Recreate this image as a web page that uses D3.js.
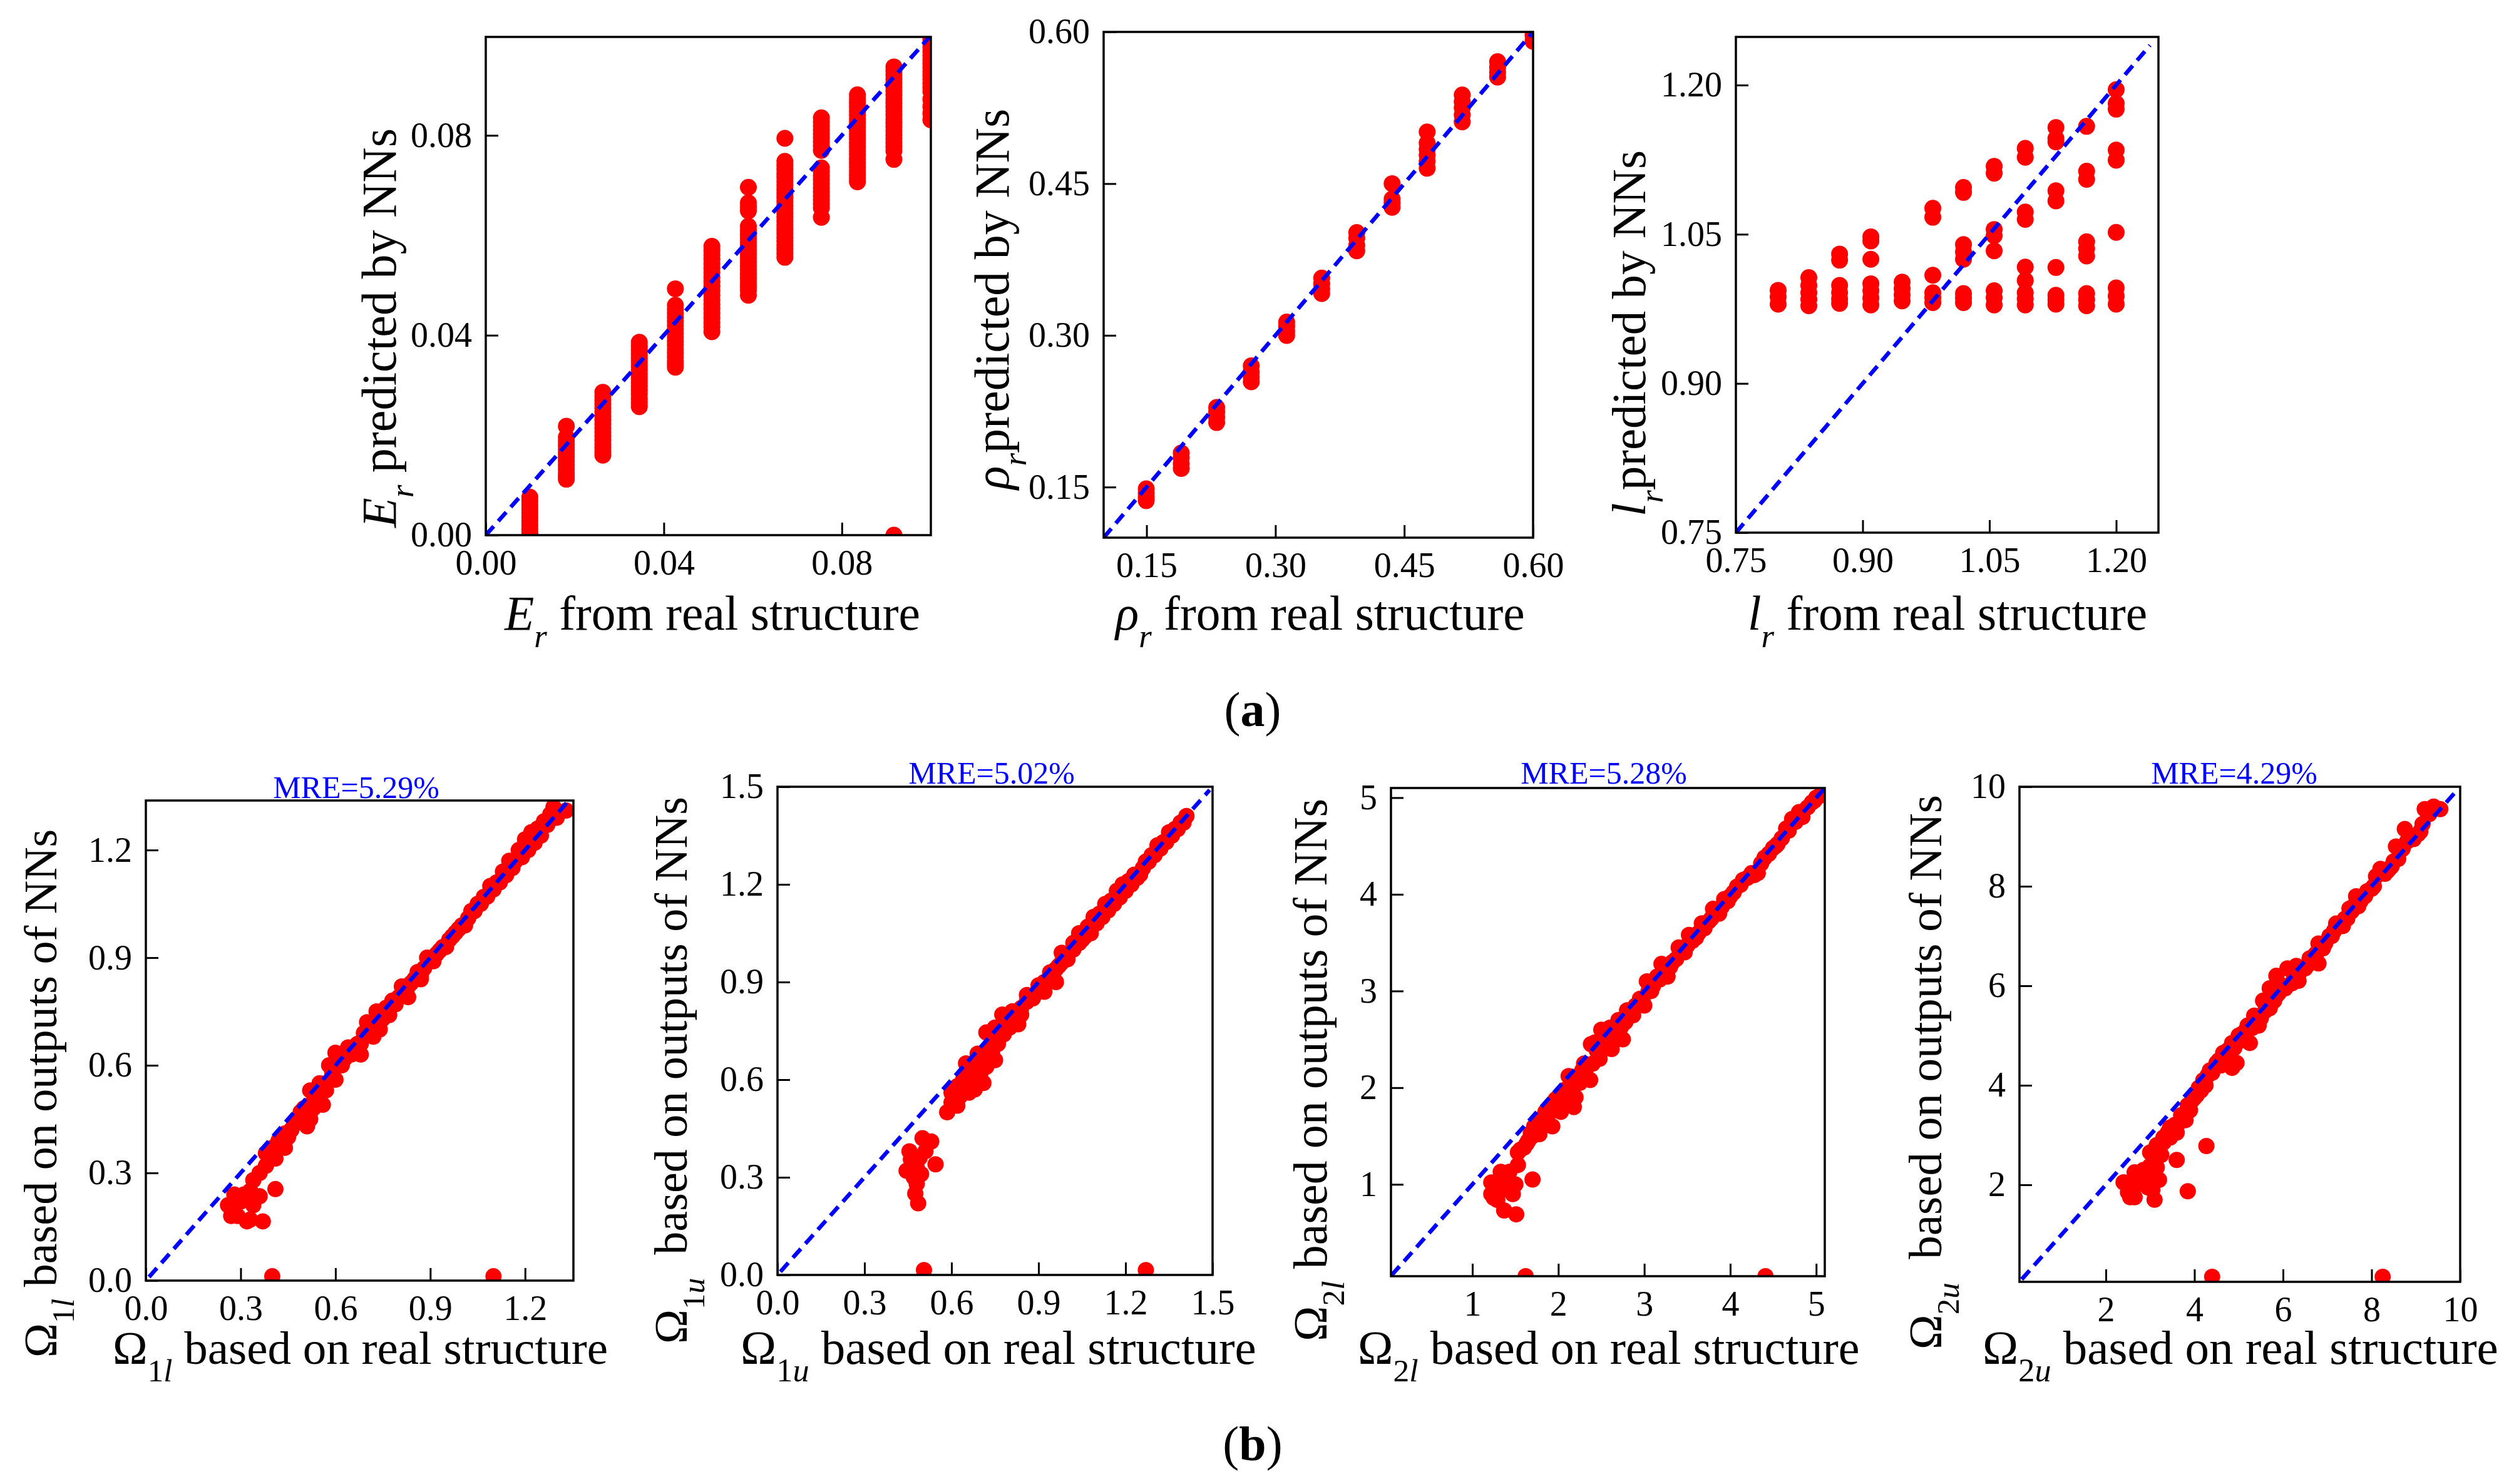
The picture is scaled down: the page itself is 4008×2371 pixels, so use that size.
<!DOCTYPE html>
<html>
<head>
<meta charset="utf-8">
<script src="https://cdn.jsdelivr.net/npm/d3@7"></script>
<style>
  html, body { margin: 0; padding: 0; background: #fff; }
  text { font-family: "Liberation Serif", serif; fill: #000; }
</style>
</head>
<body>
<svg id="chart" width="4008" height="2371"></svg>
<script>
// (a) columns: one x value, list of predicted values
const erX = [0.0099, 0.0181, 0.0263, 0.0345, 0.0426, 0.0508, 0.059, 0.0672, 0.0754, 0.0835, 0.0917, 0.1];
const erY = [
  [0.0076, 0.0068, 0.006, 0.0052, 0.0044, 0.0036, 0.0028, 0.002, 0.0012, 0.0004, 0],
  [0.0218, 0.0196, 0.0188, 0.018, 0.0172, 0.0164, 0.0156, 0.0148, 0.014, 0.0132, 0.0124, 0.0118, 0.0112],
  [0.0286, 0.0278, 0.027, 0.0262, 0.0254, 0.0246, 0.0238, 0.023, 0.0222, 0.0214, 0.0206, 0.0198, 0.019, 0.0182, 0.0175, 0.0167, 0.016],
  [0.0386, 0.0378, 0.037, 0.0362, 0.0354, 0.0346, 0.0338, 0.033, 0.0322, 0.0314, 0.0306, 0.0298, 0.029, 0.0282, 0.0273, 0.0265, 0.0257],
  [0.0493, 0.046, 0.0452, 0.0444, 0.0436, 0.0428, 0.042, 0.0412, 0.0404, 0.0396, 0.0388, 0.038, 0.0372, 0.0364, 0.0356, 0.0348, 0.0342, 0.0336],
  [0.0578, 0.057, 0.0561, 0.0552, 0.0543, 0.0534, 0.0525, 0.0516, 0.0507, 0.0498, 0.0489, 0.048, 0.0471, 0.0462, 0.0453, 0.0444, 0.0435, 0.0426, 0.0417, 0.0407],
  [0.0696, 0.0665, 0.0657, 0.0649, 0.0618, 0.061, 0.0602, 0.0594, 0.0586, 0.0578, 0.057, 0.0562, 0.0554, 0.0546, 0.0538, 0.053, 0.0522, 0.0514, 0.0506, 0.0498, 0.049, 0.048],
  [0.0794, 0.0748, 0.074, 0.0732, 0.0724, 0.0716, 0.0708, 0.07, 0.0692, 0.0684, 0.0676, 0.0668, 0.066, 0.0652, 0.0644, 0.0636, 0.0628, 0.062, 0.0612, 0.0604, 0.0596, 0.0588, 0.058, 0.0572, 0.0564, 0.0556],
  [0.0835, 0.0827, 0.0819, 0.0811, 0.0803, 0.0795, 0.0787, 0.0779, 0.077, 0.0735, 0.0727, 0.0719, 0.0711, 0.0703, 0.0695, 0.0687, 0.0679, 0.0671, 0.0663, 0.0655, 0.0636],
  [0.0881, 0.0873, 0.0865, 0.0857, 0.0849, 0.0841, 0.0833, 0.0825, 0.0817, 0.0809, 0.0801, 0.0793, 0.0785, 0.0777, 0.0769, 0.0761, 0.0753, 0.0745, 0.0737, 0.0729, 0.0721, 0.0714, 0.0707],
  [0.0937, 0.0929, 0.0921, 0.0913, 0.0905, 0.0897, 0.0889, 0.0881, 0.0873, 0.0865, 0.0857, 0.0849, 0.0841, 0.0833, 0.0825, 0.0817, 0.0809, 0.0801, 0.0793, 0.0785, 0.0777, 0.0769, 0.0752, 0],
  [0.1, 0.0992, 0.0984, 0.0976, 0.0968, 0.096, 0.0952, 0.0944, 0.0936, 0.0928, 0.092, 0.0912, 0.0904, 0.0896, 0.0888, 0.0872, 0.0858, 0.0844, 0.0831]
];

const rhoX = [0.1496, 0.1904, 0.2316, 0.2719, 0.3131, 0.3539, 0.3947, 0.4359, 0.4767, 0.5175, 0.5587, 0.6];
const rhoY = [
  [0.1483, 0.144, 0.14, 0.1366],
  [0.1837, 0.179, 0.173, 0.1684],
  [0.2287, 0.224, 0.219, 0.2138],
  [0.2698, 0.264, 0.259, 0.2541],
  [0.3132, 0.309, 0.304, 0.2999],
  [0.3566, 0.351, 0.346, 0.3414],
  [0.4017, 0.396, 0.389, 0.3836],
  [0.45, 0.4347, 0.431, 0.4266],
  [0.5011, 0.4902, 0.484, 0.478, 0.472, 0.4652],
  [0.5377, 0.531, 0.525, 0.518, 0.5111],
  [0.5706, 0.565, 0.56, 0.5553],
  [0.5968, 0.5907]
];

const lenX = [0.8, 0.8363, 0.8727, 0.9097, 0.9467, 0.983, 1.0193, 1.0556, 1.0924, 1.1287, 1.165, 1.2];
const lenY = [
  [0.9936, 0.9871, 0.9797],
  [1.0064, 0.9986, 0.9912, 0.9846, 0.9781],
  [1.0301, 1.024, 0.9986, 0.9912, 0.985, 0.9805],
  [1.0474, 1.0433, 1.0248, 1.0002, 0.9932, 0.9858, 0.9789],
  [1.0018, 0.9953, 0.9891, 0.983],
  [1.0761, 1.0671, 1.0088, 0.9912, 0.9863, 0.9813],
  [1.097, 1.0921, 1.0396, 1.0322, 1.0248, 0.9904, 0.9858, 0.9813],
  [1.1183, 1.1114, 1.0548, 1.0486, 1.0334, 0.9932, 0.9863, 0.9789],
  [1.1364, 1.1274, 1.0724, 1.065, 1.017, 1.0035, 0.9912, 0.985, 0.9789],
  [1.1573, 1.1462, 1.1429, 1.0937, 1.0835, 1.0166, 0.9887, 0.9842, 0.9797],
  [1.1585, 1.1134, 1.1052, 1.0425, 1.0355, 1.0281, 0.9904, 0.9842, 0.9781],
  [1.1954, 1.1815, 1.1758, 1.1347, 1.1245, 1.0519, 0.9961, 0.9879, 0.9797]
];

// (b) real / predicted pairs
const o1lReal = [0.26, 0.27, 0.29, 0.28, 0.30, 0.31, 0.33, 0.32, 0.34, 0.37, 0.36, 0.41, 0.33, 0.40, 1.10, 0.34, 0.36, 0.38, 0.39, 0.40, 0.41, 0.42, 0.44, 0.45, 0.46, 0.48, 0.49, 0.51, 0.52, 0.53, 0.52, 0.54, 0.56, 0.55, 0.57, 0.58, 0.60, 0.59, 0.60, 0.62, 0.64, 0.63, 0.66, 0.68, 0.67, 0.69, 0.70, 0.72, 0.73, 0.74, 0.75, 0.77, 0.79, 0.81, 0.83, 0.84, 0.86, 0.87, 0.89, 0.91, 0.93, 0.95, 0.97, 0.99, 1.01, 1.03, 1.05, 1.07, 1.09, 1.11, 1.13, 1.15, 1.17, 1.18, 1.20, 1.22, 1.24, 1.26, 1.28, 1.29, 1.30, 1.33,
  0.38, 0.40, 0.42, 0.44, 0.46, 0.47, 0.49, 0.50, 0.52, 0.54, 0.55, 0.57, 0.59, 0.61, 0.63, 0.65, 0.66, 0.68, 0.70, 0.71, 0.73, 0.75, 0.76, 0.78, 0.80, 0.82, 0.83, 0.85, 0.87, 0.88, 0.90, 0.92, 0.94, 0.96, 0.98, 1.0, 1.02, 1.04, 1.06, 1.08, 1.10, 1.12, 1.14, 1.16, 1.19, 1.21, 1.23, 1.25, 1.27];
const o1lPred = [0.21, 0.18, 0.18, 0.24, 0.22, 0.24, 0.25, 0.165, 0.21, 0.165, 0.235, 0.255, 0.17, 0.012, 0.012, 0.28, 0.30, 0.32, 0.35, 0.37, 0.34, 0.38, 0.37, 0.40, 0.42, 0.44, 0.47, 0.43, 0.45, 0.48, 0.53, 0.50, 0.49, 0.55, 0.53, 0.60, 0.56, 0.58, 0.635, 0.60, 0.65, 0.62, 0.64, 0.63, 0.66, 0.69, 0.72, 0.68, 0.75, 0.70, 0.73, 0.74, 0.77, 0.82, 0.79, 0.83, 0.86, 0.84, 0.90, 0.89, 0.92, 0.93, 0.96, 0.98, 0.99, 1.03, 1.05, 1.07, 1.10, 1.11, 1.14, 1.17, 1.17, 1.20, 1.23, 1.25, 1.26, 1.28, 1.30, 1.32, 1.29, 1.31,
  0.355, 0.36, 0.39, 0.41, 0.42, 0.44, 0.46, 0.48, 0.49, 0.52, 0.53, 0.55, 0.57, 0.60, 0.62, 0.63, 0.65, 0.66, 0.69, 0.71, 0.72, 0.74, 0.76, 0.78, 0.79, 0.81, 0.82, 0.84, 0.85, 0.87, 0.89, 0.91, 0.93, 0.95, 0.97, 0.99, 1.01, 1.03, 1.05, 1.07, 1.09, 1.11, 1.13, 1.15, 1.18, 1.2, 1.22, 1.24, 1.27];

const o1uReal = [0.445, 0.455, 0.46, 0.47, 0.475, 0.485, 0.48, 0.49, 0.50, 0.495, 0.51, 0.53, 0.545, 0.47, 0.48, 0.505, 1.27, 0.585, 0.60, 0.62, 0.61, 0.63, 0.64, 0.65, 0.66, 0.67, 0.68, 0.69, 0.71, 0.72, 0.70, 0.72, 0.73, 0.75, 0.75, 0.76, 0.78, 0.775, 0.80, 0.81, 0.83, 0.84, 0.86, 0.88, 0.90, 0.92, 0.94, 0.96, 0.97, 0.98, 1.0, 1.02, 1.04, 1.05, 1.07, 1.09, 1.11, 1.13, 1.15, 1.17, 1.19, 1.21, 1.23, 1.25, 1.27, 1.29, 1.31, 1.33, 1.35, 1.37, 1.39, 1.41,
  0.60, 0.62, 0.64, 0.66, 0.68, 0.70, 0.72, 0.74, 0.76, 0.78, 0.80, 0.82, 0.84, 0.86, 0.88, 0.90, 0.92, 0.94, 0.96, 0.98, 1.0, 1.02, 1.04, 1.06, 1.08, 1.10, 1.12, 1.14, 1.16, 1.18, 1.20, 1.22, 1.24, 1.26, 1.28, 1.30, 1.32, 1.34, 1.36, 1.38, 1.40, 0.65, 0.67, 0.69, 0.70, 0.72, 0.74, 0.68, 0.66];
const o1uPred = [0.32, 0.38, 0.355, 0.30, 0.25, 0.22, 0.33, 0.36, 0.42, 0.31, 0.38, 0.41, 0.34, 0.35, 0.28, 0.015, 0.015, 0.50, 0.53, 0.52, 0.57, 0.55, 0.60, 0.65, 0.56, 0.60, 0.63, 0.68, 0.59, 0.64, 0.62, 0.745, 0.70, 0.66, 0.76, 0.72, 0.74, 0.80, 0.76, 0.81, 0.77, 0.82, 0.86, 0.85, 0.89, 0.87, 0.93, 0.90, 0.95, 0.99, 0.98, 1.02, 1.05, 1.03, 1.07, 1.10, 1.11, 1.14, 1.15, 1.18, 1.20, 1.21, 1.23, 1.23, 1.27, 1.29, 1.32, 1.33, 1.36, 1.37, 1.39, 1.41,
  0.56, 0.58, 0.59, 0.62, 0.64, 0.66, 0.67, 0.70, 0.71, 0.74, 0.77, 0.79, 0.80, 0.84, 0.85, 0.87, 0.90, 0.91, 0.94, 0.96, 0.97, 1.0, 1.02, 1.04, 1.05, 1.08, 1.10, 1.12, 1.14, 1.16, 1.18, 1.20, 1.22, 1.25, 1.27, 1.29, 1.31, 1.33, 1.35, 1.37, 1.39, 0.58, 0.63, 0.60, 0.65, 0.68, 0.68, 0.57, 0.61];

const o2lReal = [1.22, 1.22, 1.25, 1.29, 1.27, 1.33, 1.37, 1.38, 1.40, 1.43, 1.47, 1.50, 1.51, 1.53, 1.70, 1.35, 1.42, 1.62, 4.41, 1.53, 1.6, 1.65, 1.68, 1.75, 1.78, 1.83, 1.88, 1.93, 1.97, 2.03, 2.05, 2.12, 2.12, 2.18, 2.2, 2.25, 2.3, 2.37, 2.4, 2.38, 2.43, 2.48, 2.5, 2.55, 2.6, 2.62, 2.7, 2.75, 2.8, 2.87, 2.95, 3.0, 3.03, 3.08, 3.15, 3.2, 3.27, 3.33, 3.4, 3.47, 3.52, 3.6, 3.67, 3.75, 3.8, 3.87, 3.93, 4.0, 4.08, 4.15, 4.25, 4.32, 4.4, 4.5, 4.55, 4.65, 4.72, 4.8, 4.95, 5.0, 5.08,
  1.56, 1.63, 1.7, 1.72, 1.8, 1.85, 1.9, 1.95, 2.0, 2.08, 2.15, 2.22, 2.28, 2.34, 2.45, 2.52, 2.58, 2.65, 2.73, 2.78, 2.85, 2.9, 2.98, 3.05, 3.1, 3.18, 3.24, 3.3, 3.37, 3.44, 3.5, 3.56, 3.63, 3.7, 3.78, 3.84, 3.9, 3.97, 4.04, 4.12, 4.2, 4.28, 4.36, 4.45, 4.53, 4.6, 4.68, 4.76, 4.84, 4.9, 4.98, 5.04];
const o2lPred = [1.02, 0.90, 0.86, 0.84, 0.96, 1.13, 0.73, 1.08, 0.95, 1.13, 0.90, 1.0, 0.69, 1.2, 1.05, 1.0, 1.05, 0.05, 0.05, 1.33, 1.38, 1.45, 1.53, 1.65, 1.52, 1.62, 1.72, 1.6, 1.88, 1.75, 1.95, 2.12, 1.85, 1.8, 1.9, 2.05, 2.25, 2.08, 2.25, 2.45, 2.47, 2.3, 2.6, 2.45, 2.62, 2.4, 2.7, 2.5, 2.8, 2.75, 2.92, 2.85, 3.1, 3.0, 3.15, 3.28, 3.15, 3.3, 3.45, 3.4, 3.58, 3.55, 3.7, 3.72, 3.85, 3.8, 3.95, 3.98, 4.08, 4.15, 4.22, 4.22, 4.38, 4.48, 4.52, 4.68, 4.78, 4.85, 4.95, 5.0, 5.03,
  1.36, 1.42, 1.5, 1.6, 1.68, 1.75, 1.78, 1.85, 1.9, 1.98, 2.05, 2.12, 2.18, 2.22, 2.38, 2.45, 2.5, 2.58, 2.63, 2.68, 2.78, 2.85, 2.92, 3.0, 3.05, 3.12, 3.18, 3.25, 3.33, 3.4, 3.47, 3.52, 3.6, 3.65, 3.75, 3.8, 3.87, 3.93, 4.02, 4.1, 4.17, 4.2, 4.32, 4.42, 4.5, 4.58, 4.66, 4.75, 4.8, 4.9, 4.97, 5.02];

const o2uReal = [2.4, 2.5, 2.55, 2.65, 2.65, 2.7, 2.8, 2.85, 2.95, 3.0, 3.05, 3.1, 3.2, 3.15, 3.6, 3.85, 4.27, 2.6, 2.9, 4.4, 8.25, 3.0, 3.25, 3.2, 3.3, 3.45, 3.45, 3.55, 3.6, 3.7, 3.8, 3.85, 4.0, 4.1, 4.2, 4.35, 4.5, 4.6, 4.65, 4.85, 4.95, 4.85, 5.0, 5.25, 5.2, 5.35, 5.45, 5.55, 5.7, 5.7, 5.85, 5.85, 6.0, 6.1, 6.35, 6.3, 6.6, 6.8, 6.8, 6.9, 7.05, 7.2, 7.35, 7.5, 7.65, 7.7, 7.9, 8.1, 8.2, 8.35, 8.5, 8.55, 8.65, 8.75, 8.85, 9.1, 9.2, 9.4, 9.55,
  3.1, 3.15, 3.3, 3.4, 3.5, 3.65, 3.75, 3.9, 3.95, 4.05, 4.15, 4.25, 4.3, 4.4, 4.55, 4.7, 4.75, 4.8, 4.9, 5.05, 5.1, 5.15, 5.3, 5.4, 5.5, 5.6, 5.65, 5.8, 5.9, 5.95, 6.05, 6.2, 6.25, 6.4, 6.5, 6.6, 6.7, 6.75, 6.95, 7.1, 7.15, 7.3, 7.4, 7.45, 7.55, 7.6, 7.75, 7.85, 8.0, 8.05, 8.3, 8.4, 8.45, 8.6, 8.7, 8.8, 8.95, 9.05, 9.15, 9.3];
const o2uPred = [2.05, 1.85, 1.75, 1.75, 2.25, 2.0, 2.1, 2.3, 1.95, 2.38, 1.9, 1.7, 2.1, 2.35, 2.5, 1.87, 2.78, 2.0, 2.15, 0.15, 0.15, 2.65, 2.6, 2.75, 2.95, 2.95, 3.15, 3.2, 3.05, 3.4, 3.3, 3.6, 3.75, 3.95, 4.1, 4.3, 4.45, 4.4, 4.65, 4.35, 4.45, 4.85, 5.0, 4.85, 5.2, 5.4, 5.2, 5.7, 5.55, 5.95, 6.2, 5.8, 6.0, 6.35, 6.1, 6.4, 6.55, 6.45, 6.85, 6.75, 7.0, 7.25, 7.2, 7.55, 7.8, 7.6, 7.9, 8.2, 8.35, 8.3, 8.5, 8.8, 8.75, 9.15, 8.95, 9.1, 9.55, 9.6, 9.55,
  2.7, 2.8, 2.85, 3.05, 3.1, 3.25, 3.35, 3.5, 3.7, 3.8, 3.9, 4.0, 4.2, 4.25, 4.5, 4.5, 4.7, 4.55, 4.75, 4.9, 5.05, 4.95, 5.15, 5.3, 5.35, 5.5, 5.6, 5.7, 5.85, 5.95, 5.95, 6.05, 6.2, 6.3, 6.35, 6.45, 6.6, 6.65, 6.85, 7.0, 7.1, 7.2, 7.35, 7.35, 7.5, 7.6, 7.7, 7.8, 7.95, 8.0, 8.25, 8.35, 8.4, 8.55, 8.75, 8.9, 8.95, 9.05, 9.25, 9.45];

const toPairs = (xs, ys) => xs.map((x, i) => [x, ys[i]]);
const fromColumns = (xs, cols) => xs.flatMap((x, i) => cols[i].map((y) => [x, y]));

const rho = "\u03c1", omega = "\u03a9";
// label pieces: [text, style], style i = italic, s = upright sub, si = italic sub
const subOmega = (n, letter) => [[omega], [n, "s"], [letter, "si"]];

const panels = [
  { box: [776, 1487, 59, 855], dx: [0, 0.1], dy: [0, 0.0997], xt: [0, 0.04, 0.08], yt: [0, 0.04, 0.08], fmt: ".2f", line: [0, 0.1], r: 13.5,
    pts: fromColumns(erX, erY), fs: [77.5, 78],
    xl: [806, 1006, [["E", "i"], ["r", "si"], [" from real structure"]]],
    yl: [632, 843, [["E", "i"], ["r", "si"], [" predicted by NNs"]]] },
  { box: [1763, 2449, 51, 859], dx: [0.1, 0.6], dy: [0.1, 0.6], xt: [0.15, 0.3, 0.45, 0.6], yt: [0.15, 0.3, 0.45, 0.6], fmt: ".2f", line: [0.1, 0.6], r: 13.5,
    pts: fromColumns(rhoX, rhoY), fs: [77.5, 78],
    xl: [1782, 1006, [[rho, "i"], ["r", "si"], [" from real structure"]]],
    yl: [1611, 782, [[rho, "i"], ["r", "si"], ["predicted by NNs"]]] },
  { box: [2773, 3448, 59, 851], dx: [0.75, 1.25], dy: [0.75, 1.2484], xt: [0.75, 0.9, 1.05, 1.2], yt: [0.75, 0.9, 1.05, 1.2], fmt: ".2f", line: [0.75, 1.24], r: 13.5,
    pts: fromColumns(lenX, lenY), fs: [77.5, 77],
    xl: [2792, 1006, [["l", "i"], ["r", "si"], [" from real structure"]]],
    yl: [2628, 825, [["l", "i"], ["r", "si"], ["predicted by NNs"]]] },
  { box: [233, 916, 1279, 2046], dx: [0, 1.353], dy: [0, 1.338], xt: [0, 0.3, 0.6, 0.9, 1.2], yt: [0, 0.3, 0.6, 0.9, 1.2], fmt: ".1f", line: [0.01, 1.338], r: 13,
    pts: toPairs(o1lReal, o1lPred), mre: ["MRE=5.29%", 569, 1275], fs: [75, 74],
    xl: [180, 2179, [...subOmega("1", "l"), [" based on real structure"]]],
    yl: [90, 2169, [...subOmega("1", "l"), [" based on outputs of NNs"]]] },
  { box: [1242, 1937, 1257, 2037], dx: [0, 1.5], dy: [0, 1.5], xt: [0, 0.3, 0.6, 0.9, 1.2, 1.5], yt: [0, 0.3, 0.6, 0.9, 1.2, 1.5], fmt: ".1f", line: [0.01, 1.49], r: 13,
    pts: toPairs(o1uReal, o1uPred), mre: ["MRE=5.02%", 1584, 1252], fs: [77, 74],
    xl: [1183, 2179, [...subOmega("1", "u"), [" based on real structure"]]],
    yl: [1097, 2147, [...subOmega("1", "u"), ["  based on outputs of NNs"]]] },
  { box: [2222, 2915, 1259, 2039], dx: [0.053, 5.1], dy: [0.05, 5.1], xt: [1, 2, 3, 4, 5], yt: [1, 2, 3, 4, 5], fmt: "d", line: [0.06, 5.1], r: 13,
    pts: toPairs(o2lReal, o2lPred), mre: ["MRE=5.28%", 2562, 1252], fs: [76, 76],
    xl: [2169, 2179, [...subOmega("2", "l"), [" based on real structure"]]],
    yl: [2119, 2143, [...subOmega("2", "l"), [" based on outputs of NNs"]]] },
  { box: [3226, 3930, 1257, 2048], dx: [0.05, 10], dy: [0.05, 10], xt: [2, 4, 6, 8, 10], yt: [2, 4, 6, 8, 10], fmt: "d", line: [0.1, 9.9], r: 13,
    pts: toPairs(o2uReal, o2uPred), mre: ["MRE=4.29%", 3569, 1252], fs: [77, 75],
    xl: [3167, 2179, [...subOmega("2", "u"), [" based on real structure"]]],
    yl: [3101, 2156, [...subOmega("2", "u"), ["  based on outputs of NNs"]]] }
];

const svg = d3.select("#chart");

function addLabel(x, y, parts, size, vertical) {
  const text = svg.append("text")
    .attr("transform", vertical ? `translate(${x},${y}) rotate(-90)` : `translate(${x},${y})`);
  let shift = 0;
  parts.forEach(([t, style]) => {
    const sub = style === "s" || style === "si";
    const target = sub ? 28 : 0;
    text.append("tspan")
      .attr("dy", target - shift)
      .attr("font-size", sub ? size * 0.68 : size)
      .attr("font-style", style === "i" || style === "si" ? "italic" : "normal")
      .style("white-space", "pre")
      .text(t);
    shift = target;
  });
}

panels.forEach((p, i) => {
  const [left, right, top, bottom] = p.box;
  const x = d3.scaleLinear(p.dx, [left, right]);
  const y = d3.scaleLinear(p.dy, [bottom, top]);
  const fmt = d3.format(p.fmt);

  svg.append("clipPath").attr("id", `clip${i}`)
    .append("rect")
    .attr("x", left).attr("y", top)
    .attr("width", right - left).attr("height", bottom - top);

  const xAxis = d3.axisBottom(x).tickValues(p.xt).tickFormat(fmt).tickSizeInner(-20).tickSizeOuter(0).tickPadding(23);
  const yAxis = d3.axisLeft(y).tickValues(p.yt).tickFormat(fmt).tickSizeInner(-20).tickSizeOuter(0).tickPadding(22);

  [svg.append("g").attr("transform", `translate(0,${bottom})`).call(xAxis),
   svg.append("g").attr("transform", `translate(${left},0)`).call(yAxis)].forEach((g) => {
    g.select(".domain").remove();
    g.selectAll(".tick line").attr("stroke", "#000").attr("stroke-width", 3);
    g.selectAll(".tick text").attr("font-size", 56).attr("font-family", "Liberation Serif");
  });

  const plot = svg.append("g").attr("clip-path", `url(#clip${i})`);
  plot.selectAll("circle")
    .data(p.pts)
    .join("circle")
    .attr("cx", (d) => x(d[0]))
    .attr("cy", (d) => y(d[1]))
    .attr("r", p.r)
    .attr("fill", "#ff0000");

  plot.append("line")
    .attr("x1", x(p.line[0])).attr("y1", y(p.line[0]))
    .attr("x2", x(p.line[1])).attr("y2", y(p.line[1]))
    .attr("stroke", "#0000ff")
    .attr("stroke-width", 6.5)
    .attr("stroke-dasharray", "19 11");

  svg.append("rect")
    .attr("x", left).attr("y", top)
    .attr("width", right - left).attr("height", bottom - top)
    .attr("fill", "none").attr("stroke", "#000").attr("stroke-width", 3.5);

  addLabel(p.xl[0], p.xl[1], p.xl[2], p.fs[0], false);
  addLabel(p.yl[0], p.yl[1], p.yl[2], p.fs[1], true);

  if (p.mre) {
    svg.append("text")
      .attr("x", p.mre[1]).attr("y", p.mre[2])
      .attr("text-anchor", "middle")
      .attr("font-size", 50)
      .style("fill", "#0000ff")
      .text(p.mre[0]);
  }
});

[["a", 2001, 1160], ["b", 2001, 2333]].forEach(([c, cx, cy]) => {
  const t = svg.append("text").attr("x", cx).attr("y", cy).attr("text-anchor", "middle").attr("font-size", 78);
  t.append("tspan").text("(");
  t.append("tspan").attr("font-weight", "bold").text(c);
  t.append("tspan").text(")");
});
</script>
</body>
</html>
